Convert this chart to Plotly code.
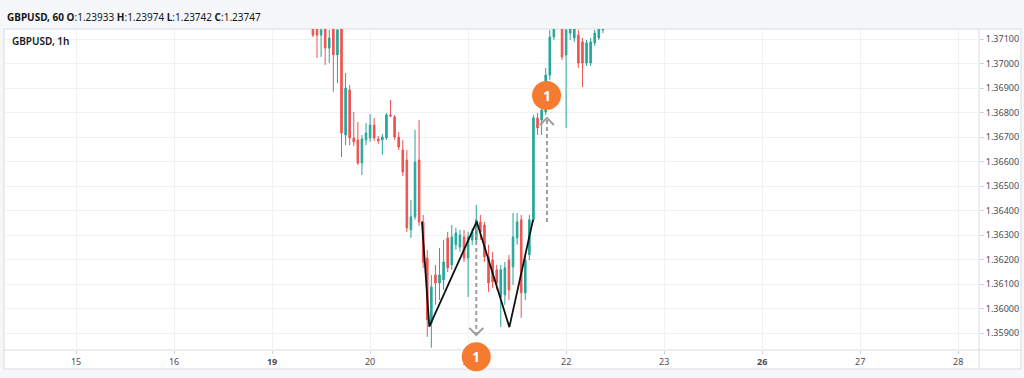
import plotly.graph_objects as go

# ---------------- data ----------------
day_ticks = [0, 24, 48, 72, 96, 120, 144, 168, 192, 216]
day_labels = ["15", "16", "<b>19</b>", "20", "21", "22", "23", "<b>26</b>", "27", "28"]

hour_index = list(range(58, 130))
open_ = [1.37178, 1.37160, 1.37116, 1.37169, 1.37063, 1.37157, 1.37035, 1.37145, 1.36708, 1.36892,
         1.36696, 1.36688, 1.36594, 1.36688, 1.36696, 1.36749, 1.36692, 1.36688, 1.36696, 1.36790,
         1.36782, 1.36700, 1.36647, 1.36606, 1.36321, 1.36374, 1.36606, 1.36353, 1.36206, 1.35941,
         1.36137, 1.36104, 1.36117, 1.36288, 1.36178, 1.36260, 1.36251, 1.36292, 1.36206, 1.36280,
         1.36280, 1.36353, 1.36341, 1.36211, 1.36198, 1.36158, 1.36047, 1.36056, 1.36198, 1.36170,
         1.36288, 1.36362, 1.36064, 1.36219, 1.36362, 1.36778, 1.36769, 1.36802, 1.36953, 1.37108,
         1.37157, 1.37157, 1.37035, 1.37124, 1.37104, 1.37116, 1.37088, 1.37002, 1.37002, 1.37084,
         1.37104, 1.37137]
high = [1.37198, 1.37198, 1.37157, 1.37198, 1.37137, 1.37198, 1.37178, 1.37178, 1.36961, 1.36912,
        1.36802, 1.36761, 1.36708, 1.36757, 1.36794, 1.36778, 1.36704, 1.36712, 1.36798, 1.36851,
        1.36790, 1.36720, 1.36688, 1.36647, 1.36443, 1.36729, 1.36769, 1.36382, 1.36239, 1.36137,
        1.36178, 1.36247, 1.36280, 1.36313, 1.36341, 1.36329, 1.36321, 1.36321, 1.36313, 1.36329,
        1.36423, 1.36382, 1.36353, 1.36260, 1.36231, 1.36178, 1.36178, 1.36190, 1.36219, 1.36390,
        1.36390, 1.36382, 1.36219, 1.36382, 1.36790, 1.36798, 1.36851, 1.36982, 1.37137, 1.37198,
        1.37218, 1.37178, 1.37157, 1.37178, 1.37178, 1.37137, 1.37104, 1.37096, 1.37104, 1.37137,
        1.37178, 1.37198]
low = [1.37108, 1.37022, 1.37027, 1.36994, 1.37002, 1.36884, 1.36920, 1.36618, 1.36667, 1.36667,
       1.36663, 1.36586, 1.36545, 1.36667, 1.36680, 1.36684, 1.36672, 1.36627, 1.36688, 1.36782,
       1.36688, 1.36647, 1.36541, 1.36313, 1.36288, 1.36362, 1.36337, 1.36166, 1.35884, 1.35840,
       1.36015, 1.36035, 1.36076, 1.36149, 1.36158, 1.36239, 1.36231, 1.36190, 1.36047, 1.36260,
       1.36260, 1.36280, 1.36190, 1.36068, 1.36084, 1.36076, 1.35925, 1.36015, 1.36035, 1.36096,
       1.36260, 1.35962, 1.36035, 1.36198, 1.36353, 1.36708, 1.36708, 1.36790, 1.36933, 1.37096,
       1.37145, 1.37014, 1.36737, 1.37096, 1.37088, 1.36982, 1.36904, 1.36990, 1.36990, 1.37071,
       1.37096, 1.37124]
close = [1.37116, 1.37116, 1.37137, 1.37063, 1.37104, 1.37035, 1.37137, 1.36716, 1.36900, 1.36696,
         1.36680, 1.36594, 1.36692, 1.36716, 1.36749, 1.36696, 1.36684, 1.36700, 1.36790, 1.36786,
         1.36700, 1.36659, 1.36557, 1.36329, 1.36374, 1.36598, 1.36353, 1.36190, 1.35954, 1.36088,
         1.36104, 1.36137, 1.36190, 1.36166, 1.36292, 1.36308, 1.36300, 1.36206, 1.36292, 1.36313,
         1.36362, 1.36313, 1.36211, 1.36104, 1.36109, 1.36104, 1.36158, 1.36166, 1.36076, 1.36292,
         1.36353, 1.36064, 1.36198, 1.36362, 1.36778, 1.36737, 1.36810, 1.36953, 1.37108, 1.37157,
         1.37198, 1.37027, 1.37137, 1.37145, 1.37145, 1.37002, 1.37002, 1.37084, 1.37088, 1.37124,
         1.37145, 1.37169]

# double-bottom (W) pattern drawn on the chart
w_x = [84.7, 86.5, 98.1, 106.1, 111.9]
w_price = [1.36355, 1.35926, 1.36355, 1.35924, 1.36362]

# projection arrows: [x, start price, tip price]
down_arrow = [98.0, 1.36333, 1.35892]
up_arrow = [115.3, 1.36353, 1.36778]
badge_x = [98.0, 115.2]
badge_price = [1.35803, 1.36869]
badge_text = ["1", "1"]

header = ("<b>GBPUSD, 60</b> <b>O</b>:1.23933 <b>H</b>:1.23974 "
          "<b>L</b>:1.23742 <b>C</b>:1.23747")
pane_title = "GBPUSD, 1h"

# ---------------- figure ----------------
GREEN = "#26a69a"
RED = "#ef5350"
FONT = "Noto Sans"
ARROW = "#9e9e9e"
BG = "#f6f7f9"
ORANGE = "#f47b2f"
Y_RANGE = [1.358306, 1.371408]

fig = go.Figure()
fig.add_trace(go.Candlestick(
    x=hour_index, open=open_, high=high, low=low, close=close,
    increasing=dict(line=dict(color=GREEN, width=1), fillcolor=GREEN),
    decreasing=dict(line=dict(color=RED, width=1), fillcolor=RED),
    whiskerwidth=0, showlegend=False, hoverinfo="skip"))

fig.add_trace(go.Scatter(x=w_x, y=w_price, mode="lines",
                         line=dict(color="#111111", width=1.8), showlegend=False, hoverinfo="skip"))

chev_dx = 1.7
chev_dy = 0.00029
for (ax_, p0, p1) in (down_arrow, up_arrow):
    sgn = 1 if p1 > p0 else -1
    fig.add_trace(go.Scatter(x=[ax_, ax_], y=[p0, p1], mode="lines",
                             line=dict(color=ARROW, width=2, dash="4px,3px"),
                             showlegend=False, hoverinfo="skip", cliponaxis=False))
    fig.add_trace(go.Scatter(x=[ax_ - chev_dx, ax_, ax_ + chev_dx],
                             y=[p1 - sgn * chev_dy, p1, p1 - sgn * chev_dy], mode="lines",
                             line=dict(color=ARROW, width=2),
                             showlegend=False, hoverinfo="skip", cliponaxis=False))

L, R, T, B = 5, 45, 29, 28
W, H = 1024, 378
pw, ph = W - L - R, H - T - B


def px_x(p):
    return (p - L) / pw


def px_y(p):
    return (H - B - p) / ph


def price_to_paper(p):
    return (p - Y_RANGE[0]) / (Y_RANGE[1] - Y_RANGE[0])


FRAME = "#d9dbe0"
shapes = [
    dict(type="rect", xref="paper", yref="paper", x0=px_x(4), x1=px_x(1021), y0=px_y(369), y1=px_y(29),
         fillcolor="white", line=dict(color=FRAME, width=1), layer="below"),
    dict(type="line", xref="paper", yref="paper", x0=px_x(4), x1=px_x(1021), y0=0, y1=0,
         line=dict(color=FRAME, width=1), layer="below"),
    dict(type="line", xref="paper", yref="paper", x0=1, x1=1, y0=px_y(369), y1=px_y(29),
         line=dict(color=FRAME, width=1), layer="below"),
]

annotations = [
    dict(text=header, xref="paper", yref="paper", x=px_x(5), y=px_y(17), xanchor="left",
         yanchor="middle", showarrow=False, font=dict(size=10, color="#131722", family=FONT)),
    dict(text=pane_title, xref="paper", yref="paper", x=px_x(10), y=px_y(41), xanchor="left",
         yanchor="middle", showarrow=False,
         font=dict(size=10, color="#131722", family=FONT, weight=600)),
]

# numbered badges (orange circles)
for bx, bp, bt in zip(badge_x, badge_price, badge_text):
    yp = price_to_paper(bp)
    shapes.append(dict(type="circle", xref="x", yref="paper", xsizemode="pixel", ysizemode="pixel",
                       xanchor=bx, yanchor=yp, x0=-14.5, x1=14.5, y0=-14.5, y1=14.5,
                       fillcolor=ORANGE, line=dict(width=0), layer="above"))
    annotations.append(dict(text=bt, xref="x", yref="paper", x=bx, y=yp, xanchor="center",
                            yanchor="middle", showarrow=False,
                            font=dict(size=14, color="white", family=FONT, weight="bold")))

fig.update_layout(
    width=W, height=H, margin=dict(l=L, r=R, t=T, b=B),
    paper_bgcolor=BG, plot_bgcolor="rgba(0,0,0,0)",
    boxgap=0.45,
    shapes=shapes,
    annotations=annotations,
    font=dict(family=FONT, size=9, color="#4a4d57"),
    xaxis=dict(range=[-17.4, 221.1], tickvals=day_ticks, ticktext=day_labels,
               showgrid=True, gridcolor="#eff1f4", gridwidth=1, zeroline=False,
               ticks="outside", ticklen=3, tickcolor="#d0d3d9", showline=False,
               rangeslider=dict(visible=False), fixedrange=True,
               tickfont=dict(size=9, color="#4a4d57")),
    yaxis=dict(range=Y_RANGE, side="right", tick0=1.359, dtick=0.001,
               tickformat=".5f", showgrid=True, gridcolor="#eff1f4", gridwidth=1,
               zeroline=False, ticks="outside", ticklen=4, tickcolor="#d0d3d9",
               showline=False, fixedrange=True, tickfont=dict(size=9, color="#4a4d57")),
)

fig.write_html("out.html", config={"displayModeBar": False},
               post_script=("document.body.style.margin='0';"
                            "document.body.style.padding='0';"
                            "document.body.style.overflow='hidden';"
                            "document.body.style.background='" + BG + "';"))
